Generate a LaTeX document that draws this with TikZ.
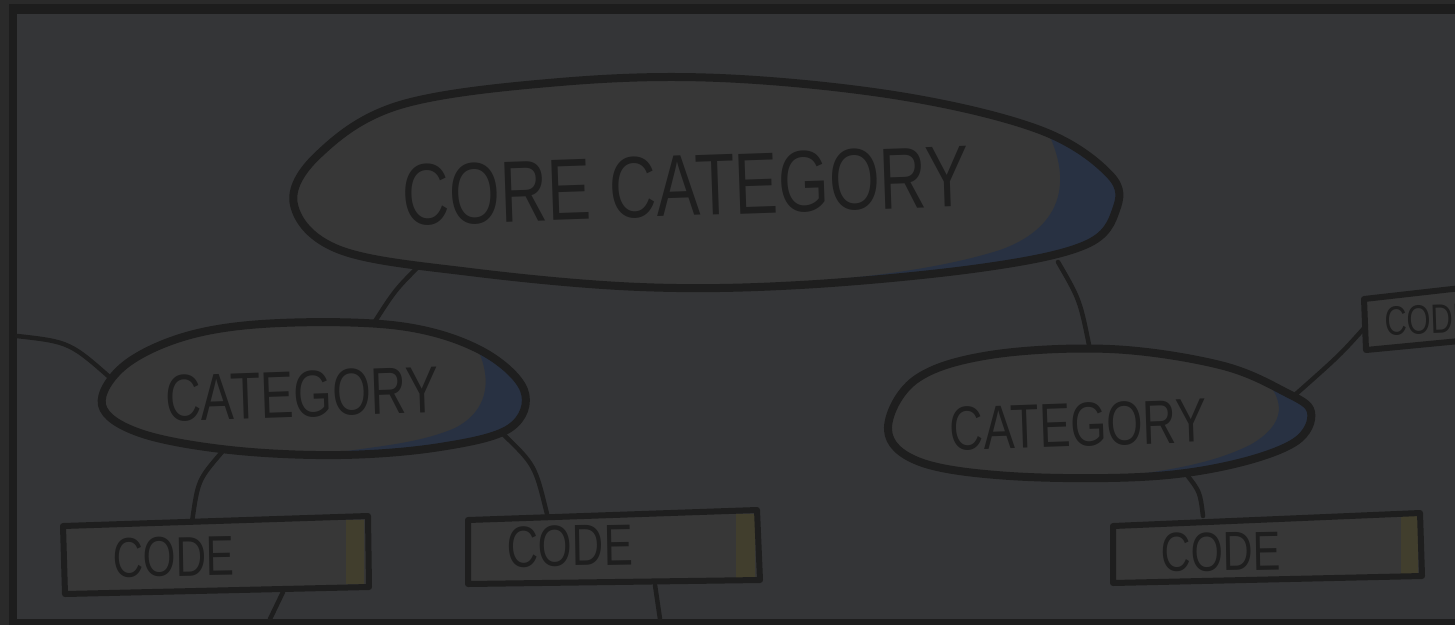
\documentclass[tikz,border=0pt]{standalone}
\usepackage{fontspec}
\newfontfamily\hand[FakeStretch=0.75]{Liberation Sans}
\definecolor{outerbg}{HTML}{2A2A2A}
\definecolor{framec}{HTML}{1D1D1D}
\definecolor{panel}{HTML}{343537}
\definecolor{shapefill}{HTML}{373737}
\definecolor{ink}{HTML}{1E1E1E}
\definecolor{crescent}{HTML}{283142}
\definecolor{stripe}{HTML}{413E2D}
\tikzset{
  blob/.style={draw=ink, line width=8pt, fill=shapefill, line join=round},
  codebox/.style={draw=ink, line width=6pt, fill=shapefill, line join=round},
  link/.style={draw=ink, line width=4.5pt, line cap=round},
  lbl/.style={text=ink, inner sep=0pt, font=\hand},
}
\begin{document}
\begin{tikzpicture}[x=1pt,y=-1pt]
\useasboundingbox (0,0) rectangle (1455,625);
\fill[outerbg] (0,0) rectangle (1455,625);
\fill[framec] (9,4) rectangle (1455,625);
\fill[panel] (17,14) rectangle (1455,619);

% connector end points
\coordinate (cA) at (420,265);
\coordinate (cB) at (372,326);
\coordinate (cC) at (1058,262);
\coordinate (cD) at (1090,350);
\coordinate (eL) at (17,336);
\coordinate (eR) at (115,382);
\coordinate (lA) at (222,452);
\coordinate (lB) at (192,522);
\coordinate (lC) at (503,434);
\coordinate (lD) at (547,514);
\coordinate (b1a) at (283,592);
\coordinate (b1b) at (270,619);
\coordinate (b2a) at (655,585);
\coordinate (b2b) at (660,619);
\coordinate (rA) at (1296,394);
\coordinate (rB) at (1366,326);
\coordinate (rC) at (1187,475);
\coordinate (rD) at (1203,516);

% connectors
\draw[link] (cA) .. controls (395,290) .. (cB);
\draw[link] (cC) .. controls (1080,300) .. (cD);
\draw[link] (eL) .. controls (70,342) .. (eR);
\draw[link] (lA) .. controls (198,480) .. (lB);
\draw[link] (lC) .. controls (535,465) .. (lD);
\draw[link] (b1a) -- (b1b);
\draw[link] (b2a) -- (b2b);
\draw[link] (rA) .. controls (1340,355) .. (rB);
\draw[link] (rC) .. controls (1200,492) .. (rD);

% core ellipse
\def\corepath{plot[smooth cycle, tension=0.6] coordinates {(294,205) (318,155) (400,105) (560,82) (720,78) (900,96) (1040,130) (1110,175) (1116,210) (1085,245) (980,268) (800,285) (640,287) (470,272) (340,250)}}
\fill[shapefill] \corepath;
\begin{scope}
\clip \corepath;
\fill[crescent] (1035,110) .. controls (1075,170) and (1070,225) .. (1000,250)
  .. controls (930,272) and (850,278) .. (780,285) -- (780,330) -- (1200,330) -- (1200,110) -- cycle;
\end{scope}
\draw[blob, fill=none] \corepath;

% left category
\def\catLpath{plot[smooth cycle, tension=0.6] coordinates {(102,405) (125,365) (190,335) (280,323) (400,326) (480,350) (524,390) (510,428) (440,447) (340,455) (230,450) (140,433)}}
\fill[shapefill] \catLpath;
\begin{scope}
\clip \catLpath;
\fill[crescent] (470,335) .. controls (495,375) and (490,410) .. (455,428)
  .. controls (420,443) and (380,446) .. (340,452) -- (340,480) -- (560,480) -- (560,335) -- cycle;
\end{scope}
\draw[blob, fill=none] \catLpath;

% right category
\def\catRpath{plot[smooth cycle, tension=0.6] coordinates {(888,430) (915,380) (990,355) (1110,349) (1220,365) (1285,392) (1311,412) (1295,442) (1230,465) (1140,477) (1010,476) (920,462)}}
\fill[shapefill] \catRpath;
\begin{scope}
\clip \catRpath;
\fill[crescent] (1255,370) .. controls (1290,400) and (1285,425) .. (1250,445)
  .. controls (1215,462) and (1180,468) .. (1140,474) -- (1140,500) -- (1340,500) -- (1340,370) -- cycle;
\end{scope}
\draw[blob, fill=none] \catRpath;

% code boxes
\fill[shapefill] (63,526) -- (368,516) -- (369,587) -- (65,594) -- cycle;
\fill[stripe] (346,520) rectangle (364,584);
\draw[codebox, fill=none] (63,526) -- (368,516) -- (369,587) -- (65,594) -- cycle;

\fill[shapefill] (468,520) -- (757,510) -- (760,580) -- (468,584) -- cycle;
\fill[stripe] (736,514) rectangle (755,578);
\draw[codebox, fill=none] (468,520) -- (757,510) -- (760,580) -- (468,584) -- cycle;

\fill[shapefill] (1113,526) -- (1420,513) -- (1422,576) -- (1113,583) -- cycle;
\fill[stripe] (1401,516) rectangle (1418,574);
\draw[codebox, fill=none] (1113,526) -- (1420,513) -- (1422,576) -- (1113,583) -- cycle;

\fill[shapefill] (1364,299) -- (1470,287) -- (1470,340) -- (1366,350) -- cycle;
\draw[codebox, fill=none] (1364,299) -- (1470,287) -- (1470,340) -- (1366,350) -- cycle;

% labels
\node[lbl, font=\hand\fontsize{87}{87}\selectfont, rotate=2] (core) at (686,186) {CORE CATEGORY};
\node[lbl, font=\hand\fontsize{66}{66}\selectfont, rotate=2] (catL) at (302,394) {CATEGORY};
\node[lbl, font=\hand\fontsize{62}{62}\selectfont, rotate=2] (catR) at (1078,425) {CATEGORY};
\node[lbl, font=\hand\fontsize{56}{56}\selectfont, rotate=1] (code1) at (174,557) {CODE};
\node[lbl, font=\hand\fontsize{58}{58}\selectfont, rotate=1] (code2) at (570,546) {CODE};
\node[lbl, font=\hand\fontsize{55}{55}\selectfont, rotate=1] (code3) at (1221,552) {CODE};
\node[lbl, font=\hand\fontsize{41}{41}\selectfont, rotate=2, anchor=west] (code4) at (1385,321) {CODE};
\end{tikzpicture}
\end{document}
